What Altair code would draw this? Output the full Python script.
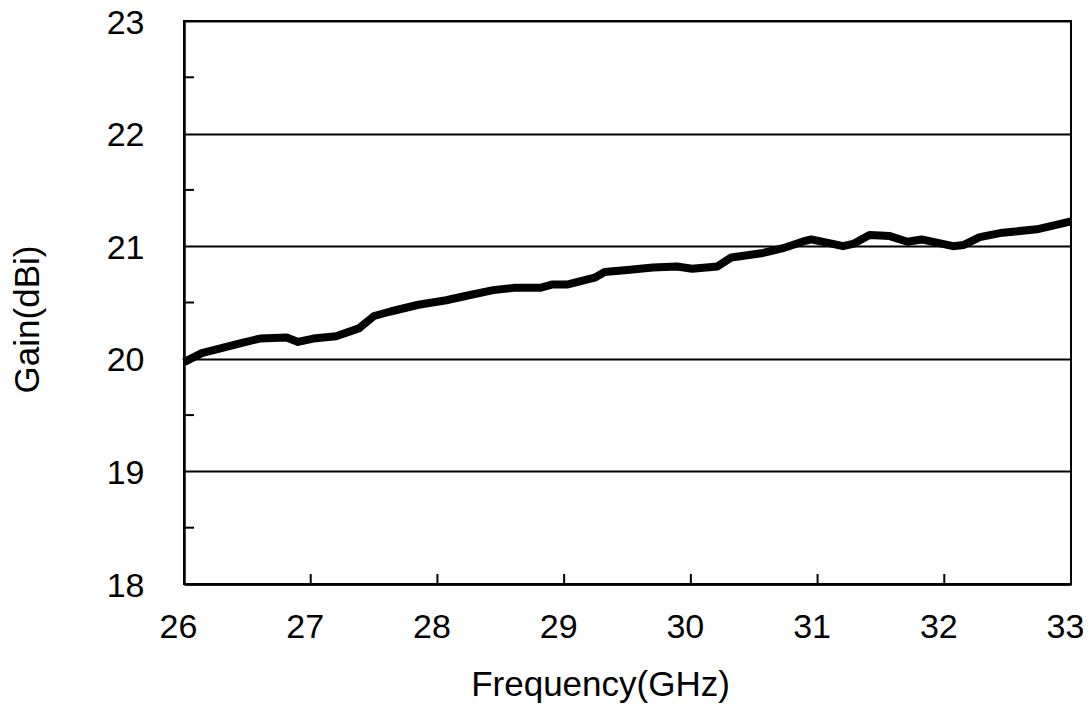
import altair as alt
import pandas as pd

# Data
freq = [26.00, 26.14, 26.28, 26.45, 26.60, 26.81, 26.90, 27.02, 27.20, 27.38,
        27.50, 27.63, 27.85, 28.07, 28.23, 28.44, 28.60, 28.81, 28.91, 29.03,
        29.24, 29.32, 29.52, 29.70, 29.89, 30.01, 30.21, 30.32, 30.57, 30.72,
        30.88, 30.95, 31.12, 31.20, 31.28, 31.41, 31.57, 31.71, 31.82, 32.07,
        32.15, 32.28, 32.46, 32.73, 33.00]
gain = [19.97, 20.05, 20.09, 20.14, 20.18, 20.19, 20.15, 20.18, 20.20, 20.27,
        20.38, 20.42, 20.48, 20.52, 20.56, 20.61, 20.63, 20.63, 20.66, 20.66,
        20.72, 20.77, 20.79, 20.81, 20.82, 20.80, 20.82, 20.90, 20.94, 20.98,
        21.04, 21.06, 21.02, 21.00, 21.02, 21.10, 21.09, 21.04, 21.06, 21.00,
        21.01, 21.08, 21.12, 21.15, 21.22]

x_ticks = [26, 27, 28, 29, 30, 31, 32, 33]
x_inner_ticks = [27, 28, 29, 30, 31, 32]
y_ticks = [18, 19, 20, 21, 22, 23]
y_minor_ticks = [18.5, 19.5, 20.5, 21.5, 22.5]

W, H = 887, 563

df = pd.DataFrame({"freq": freq, "gain": gain})
xscale = alt.Scale(domain=[26, 33], nice=False, zero=False)
yscale = alt.Scale(domain=[18, 23], nice=False, zero=False)

xaxis = alt.Axis(values=x_ticks, title="Frequency(GHz)", grid=False, ticks=False,
                 labelPadding=26, labelOffset=-6, labelFontSize=34, labelFlush=False,
                 titleFontSize=35, titleX=416, titleY=111,
                 titleBaseline="alphabetic", titleAlign="center",
                 titleFontWeight="normal")
yaxis = alt.Axis(values=y_ticks, title="Gain(dBi)", grid=True, ticks=False,
                 gridColor="black", gridWidth=2, gridOpacity=1,
                 labelPadding=40, labelFontSize=34, labelFlush=False, labelOffset=2,
                 titleFontSize=35, titleX=-157, titleY=298,
                 titleAngle=270, titleBaseline="middle", titleAlign="center",
                 titleFontWeight="normal")

line = alt.Chart(df).mark_line(color="black", strokeWidth=8, strokeJoin="round").encode(
    x=alt.X("freq:Q", scale=xscale, axis=xaxis),
    y=alt.Y("gain:Q", scale=yscale, axis=yaxis),
)

xt = alt.Chart(pd.DataFrame({"freq": x_inner_ticks})).mark_rule(color="black", strokeWidth=2).encode(
    x=alt.X("freq:Q", scale=xscale, axis=xaxis),
    y=alt.value(H),
    y2=alt.value(H - 10),
)

yt = alt.Chart(pd.DataFrame({"gain": y_minor_ticks})).mark_rule(color="black", strokeWidth=2).encode(
    y=alt.Y("gain:Q", scale=yscale, axis=yaxis),
    x=alt.value(0),
    x2=alt.value(10),
)

chart = alt.layer(line, xt, yt).properties(
    width=W, height=H,
    background="white",
    autosize=alt.AutoSizeParams(type="none"),
    padding={"left": 176, "top": 13, "right": 12, "bottom": 121},
).configure_view(
    stroke="black", strokeWidth=2
).configure_axis(
    domainColor="black", domainWidth=2.5,
    labelColor="black", titleColor="black",
    labelFont="Liberation Sans", titleFont="Liberation Sans",
)

chart.save("out.html", embed_options={"renderer": "svg", "actions": False})
